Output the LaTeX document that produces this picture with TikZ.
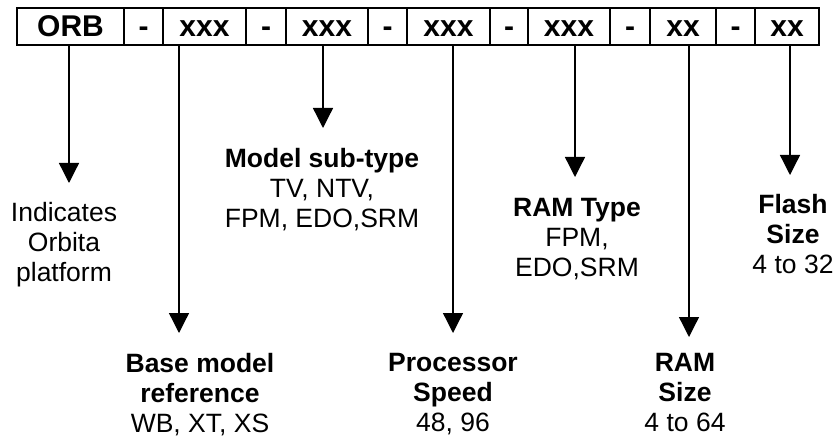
\documentclass[tikz,border=0pt]{standalone}
\usepackage{fontspec}
\setmainfont{Liberation Sans}
\usetikzlibrary{arrows.meta,positioning}

\tikzset{
  cell/.style={draw, line width=1.5pt, minimum height=37pt, inner sep=0pt,
    text height=20pt, text depth=0pt, font=\fontsize{30}{32}\selectfont\bfseries},
  arr/.style={line width=1.3pt, -{Triangle[width=20pt,length=20pt]}},
  lbl/.style={align=center, inner sep=0pt, font=\fontsize{26.5}{30}\selectfont}
}

\begin{document}
\begin{tikzpicture}[x=1pt, y=-1pt]
    \useasboundingbox (0,0) rectangle (838,441);

    % Draw the part number cells (name/centre/width/text)
    \foreach \name/\cx/\w/\txt in {c1/70.5/107/ORB, d1/143.5/39/-, c2/204.5/83/xxx,
        d2/266/40/-, c3/327/82/xxx, d3/387.5/39/-, c4/448.5/83/xxx, d4/509/38/-,
        c5/569/82/xxx, d5/630/40/-, c6/683/66/xx, d6/735.5/39/-, c7/787/64/xx}
        \node[cell, minimum width=\w pt] (\name) at (\cx,26.5) {\txt};

    % Arrow tips
    \coordinate (t1) at (69,183);
    \coordinate (t2) at (179,333);
    \coordinate (t3) at (323,128);
    \coordinate (t4) at (453,333);
    \coordinate (t5) at (575,177);
    \coordinate (t6) at (689,337);
    \coordinate (t7) at (790,175);

    % Draw the arrows from each field
    \draw[arr] (c1.south -| t1) -- (t1);
    \draw[arr] (c2.south -| t2) -- (t2);
    \draw[arr] (c3.south -| t3) -- (t3);
    \draw[arr] (c4.south -| t4) -- (t4);
    \draw[arr] (c5.south -| t5) -- (t5);
    \draw[arr] (c6.south -| t6) -- (t6);
    \draw[arr] (c7.south -| t7) -- (t7);

    % Label each field
    \node[lbl, below=19pt of t1, xshift=-5pt] (l1) {Indicates\\Orbita\\platform};
    \node[lbl, below=20pt of t2, xshift=21pt] (l2) {\textbf{Base model}\\\textbf{reference}\\WB, XT, XS};
    \node[lbl, below=20pt of t3, xshift=-1pt] (l3) {\textbf{Model sub-type}\\TV, NTV,\\FPM, EDO,SRM};
    \node[lbl, below=20pt of t4] (l4) {\textbf{Processor}\\\textbf{Speed}\\48, 96};
    \node[lbl, below=21pt of t5, xshift=2pt] (l5) {\textbf{RAM Type}\\FPM,\\EDO,SRM};
    \node[lbl, below=16pt of t6, xshift=-4pt] (l6) {\textbf{RAM}\\\textbf{Size}\\4 to 64};
    \node[lbl, below=19pt of t7, xshift=3pt] (l7) {\textbf{Flash}\\\textbf{Size}\\4 to 32};

\end{tikzpicture}
\end{document}
